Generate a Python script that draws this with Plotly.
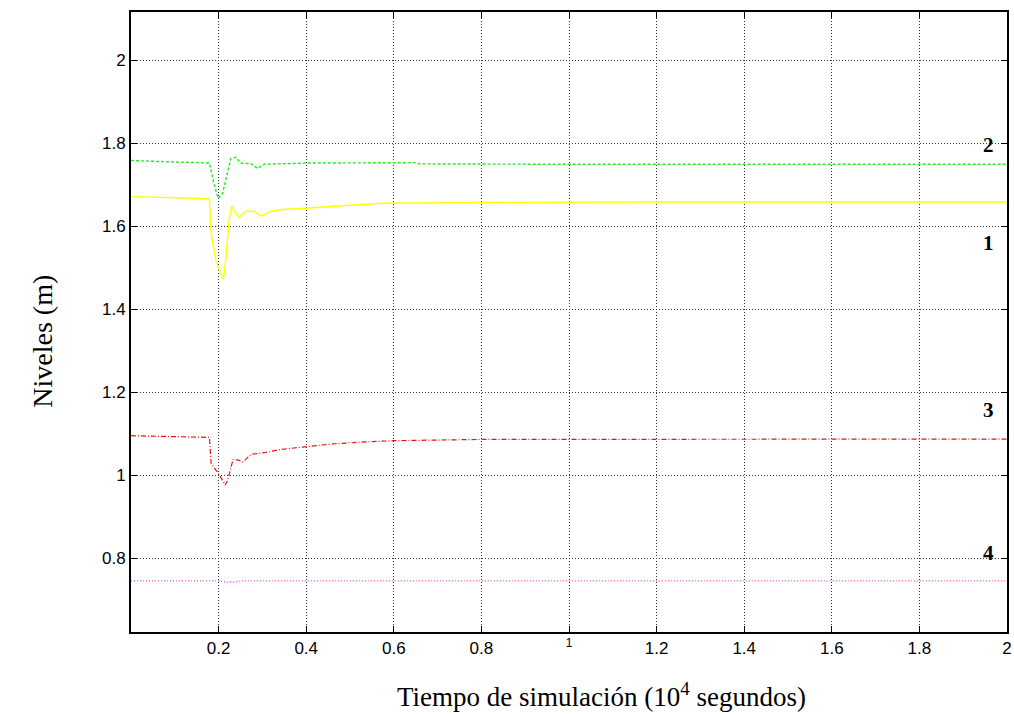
import plotly.graph_objects as go

# Series 1 (yellow, solid)
t1 = [0.0, 0.106, 0.179, 0.183, 0.194, 0.204, 0.211, 0.217, 0.224, 0.230, 0.235, 0.247, 0.262, 0.281, 0.297, 0.320, 0.346, 0.396, 0.479, 0.571, 0.8, 1.2, 2.0]
y1 = [1.671, 1.667, 1.666, 1.582, 1.518, 1.486, 1.472, 1.526, 1.614, 1.648, 1.639, 1.621, 1.636, 1.636, 1.624, 1.636, 1.640, 1.643, 1.648, 1.655, 1.657, 1.658, 1.658]

# Series 2 (green, dashed)
t2 = [0.0, 0.152, 0.179, 0.190, 0.199, 0.209, 0.220, 0.228, 0.240, 0.250, 0.262, 0.275, 0.289, 0.304, 0.4, 0.65, 0.66, 1.0, 2.0]
y2 = [1.758, 1.754, 1.752, 1.700, 1.667, 1.679, 1.730, 1.763, 1.766, 1.752, 1.751, 1.750, 1.739, 1.749, 1.752, 1.753, 1.750, 1.749, 1.749]

# Series 3 (red, dash-dot)
t3 = [0.0, 0.179, 0.183, 0.202, 0.215, 0.221, 0.233, 0.245, 0.256, 0.274, 0.304, 0.342, 0.396, 0.457, 0.533, 0.6, 0.8, 2.0]
y3 = [1.095, 1.091, 1.028, 1.000, 0.976, 0.988, 1.038, 1.036, 1.032, 1.050, 1.054, 1.062, 1.068, 1.075, 1.080, 1.083, 1.086, 1.087]

# Series 4 (magenta, dotted)
t4 = [0.0, 0.2, 0.22, 0.235, 0.25, 2.0]
y4 = [0.745, 0.745, 0.742, 0.742, 0.745, 0.745]

xtick_vals = [0.2, 0.4, 0.6, 0.8, 1.0, 1.2, 1.4, 1.6, 1.8, 2.0]
xtick_text = ["0.2", "0.4", "0.6", "0.8", "<sup>1</sup>", "1.2", "1.4", "1.6", "1.8", "2"]
ytick_vals = [0.8, 1.0, 1.2, 1.4, 1.6, 1.8, 2.0]
ytick_text = ["0.8", "1", "1.2", "1.4", "1.6", "1.8", "2"]

labels = ["1", "2", "3", "4"]
label_x = [1.957, 1.957, 1.957, 1.957]
label_y = [1.559, 1.796, 1.158, 0.813]

fig = go.Figure()
fig.add_trace(go.Scatter(x=t1, y=y1, mode="lines", line=dict(color="#ffff00", width=1.4, dash="solid"), showlegend=False))
fig.add_trace(go.Scatter(x=t2, y=y2, mode="lines", line=dict(color="#22ee22", width=1.4, dash="3px,2px"), showlegend=False))
fig.add_trace(go.Scatter(x=t3, y=y3, mode="lines", line=dict(color="#ee1111", width=1.2, dash="5px,2px,1px,2px"), showlegend=False))
fig.add_trace(go.Scatter(x=t4, y=y4, mode="lines", line=dict(color="#ee44ee", width=1.2, dash="1px,2px"), showlegend=False))

for txt, xx, yy in zip(labels, label_x, label_y):
    fig.add_annotation(x=xx, y=yy, text="<b>" + txt + "</b>", showarrow=False,
                       font=dict(family="Liberation Serif", size=21, color="black"))

fig.add_annotation(xref="paper", yref="paper", x=0.537, y=-0.102, yanchor="middle",
                   text="Tiempo de simulación (10<sup>4</sup> segundos)", showarrow=False,
                   font=dict(family="Liberation Serif", size=27, color="black"))
fig.add_annotation(xref="paper", yref="paper", x=-0.121, y=0.469, textangle=-90,
                   text="Niveles (m)", showarrow=False,
                   font=dict(family="Liberation Serif", size=28, color="black"))

fig.update_xaxes(range=[0, 2], tickvals=xtick_vals, ticktext=xtick_text,
                 ticks="inside", ticklen=6, tickcolor="black", mirror="ticks",
                 showline=True, linecolor="black", linewidth=2,
                 showgrid=True, gridcolor="#333", griddash="1px,2px", gridwidth=1,
                 zeroline=False, automargin=False,
                 tickfont=dict(family="Liberation Sans, Arial", size=17, color="black"))
fig.update_yaxes(range=[0.622, 2.116], tickvals=ytick_vals, ticktext=ytick_text,
                 ticks="inside", ticklen=6, tickcolor="black", mirror="ticks",
                 showline=True, linecolor="black", linewidth=2,
                 showgrid=True, gridcolor="#333", griddash="1px,2px", gridwidth=1,
                 zeroline=False, automargin=False,
                 tickfont=dict(family="Liberation Sans, Arial", size=17, color="black"))

fig.update_layout(width=1014, height=714, margin=dict(l=131, r=7, t=12, b=82),
                  plot_bgcolor="white", paper_bgcolor="white")

fig.write_html("out.html", config={"displayModeBar": False},
               post_script="document.body.style.margin='0';document.body.style.overflow='hidden';")
